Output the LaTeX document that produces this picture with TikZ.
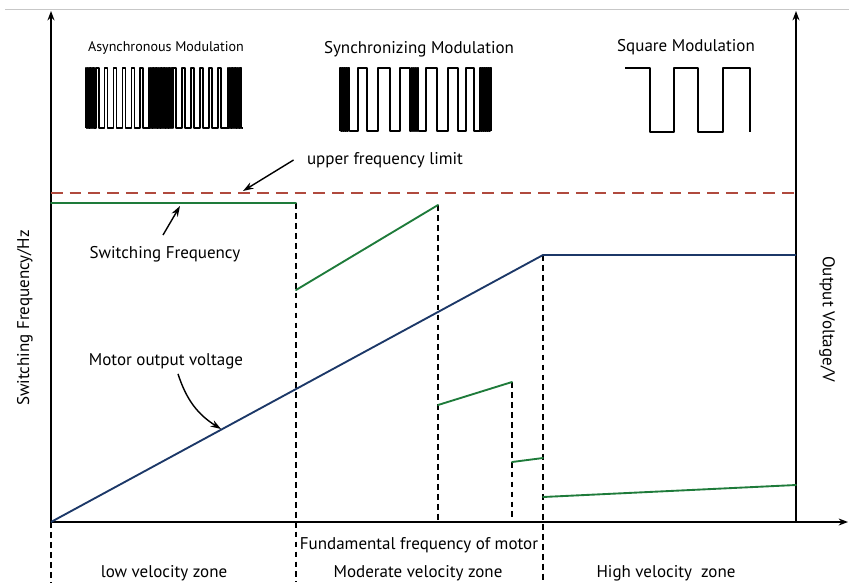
\documentclass[tikz,border=0pt]{standalone}
\usepackage{fontspec}
\setmainfont{PT Sans}
\usetikzlibrary{arrows.meta}
\definecolor{limitred}{HTML}{B04A3E}
\definecolor{freqgreen}{HTML}{1E7B3A}
\definecolor{voltblue}{HTML}{1C3868}
\begin{document}
\begin{tikzpicture}[x=0.03cm,y=-0.03cm,line join=round,font=\fontsize{14.5}{16}\selectfont,>=Stealth,
	axis/.style={line width=1.2pt,-{Stealth[length=8pt,width=6pt]}},
	guide/.style={line width=1.1pt,dash pattern=on 5pt off 3.5pt},
	freq/.style={freqgreen,line width=1.6pt,line cap=round},
	wave/.style={line width=0.9pt},
	pointer/.style={line width=1.2pt,-{Stealth[length=9pt,width=6pt]}}]
	\useasboundingbox (0,0) rectangle (849,582);
	\draw[black!22,line width=0.8pt](5,9)--(849,9);
	% axes
	\coordinate (O) at (51,522);
	\draw[axis](O)--(51,11);
	\draw[axis](O)--(848,522);
	\draw[axis](796,522)--(796,11);
	\node[rotate=90] (ylab) at (25,318) {Switching Frequency/Hz};
	\node[rotate=-90] (vlab) at (827,319) {Output Voltage/V};
	% zone borders
	\draw[guide](51,522)--(51,582);
	\draw[guide](296,203)--(296,582);
	\draw[guide](438,205)--(438,522);
	\draw[guide](512,382)--(512,522);
	\draw[guide](543,255)--(543,582);
	% upper limit, frequency, voltage
	\draw[limitred,line width=1.6pt,dash pattern=on 10pt off 6pt](51,193)--(796,193);
	\draw[freq](51,203)--(296,203);
	\draw[freq](296,290)--(438,205);
	\draw[freq](438,405)--(512,382);
	\draw[freq](512,462)--(543,458);
	\draw[freq](543,497)--(796,485);
	\draw[voltblue,line width=1.6pt](O)--(543,255)--(796,255);
	% modulation patterns
	\node (async) at (166,48) {\fontsize{12}{14}\selectfont Asynchronous Modulation};
	\node (sync) at (419,49) {Synchronizing Modulation};
	\node (square) at (686,47) {Square Modulation};
	\draw[wave](86,128) foreach \s/\n/\p/\h in {86/6/1.6/0.8,96/6/8.8/3,149/15/1.6/0.8,173/6/9/3,228/9/1.6/0.8}{foreach \k in {1,...,\n}{--({\s+(\k-1)*\p},128)--++(0,-60)--++(\h,0)--++(0,60)}}--(243,128);
	\draw[wave](340,131) foreach \a/\b in {340/341,342/343,344/345,346/347,348/349.5,358/367,378/390,400/410,411.5/412.5,413.5/414.5,415.5/416.5,417.5/418.5,426/437,448/458,466/474,480/481,482/483,484/485,486/487,488/489,490/491.5}{--(\a,131)--(\a,68)--(\b,68)--(\b,131)};
	\draw[line width=1.3pt](625,68)--(650,68)--(650,132)--(674,132)--(674,68)--(698,68)--(698,132)--(723,132)--(723,68)--(750,68)--(750,132);
	% labels and pointers
	\node (ufl) at (385,160) {upper frequency limit};
	\coordinate (ulim) at (243,191);
	\draw[pointer]([xshift=-8pt]ufl.west)--(ulim);
	\node (swf) at (165,254) {Switching Frequency};
	\coordinate (sfreq) at (180,206);
	\draw[pointer]([shift={(-2,-7)}]swf.north)--(sfreq);
	\node (mov) at (166,361) {Motor output voltage};
	\coordinate (mvolt) at (221,429);
	\draw[pointer]([shift={(12,1)}]mov.south) to[bend right=20] (mvolt);
	\node (fund) at (419,545) {Fundamental frequency of motor};
	\node (zlow) at (164,573) {low velocity zone};
	\node (zmod) at (418,573) {Moderate velocity zone};
	\node (zhigh) at (666,573) {High velocity\ \ zone};
\end{tikzpicture}
\end{document}
